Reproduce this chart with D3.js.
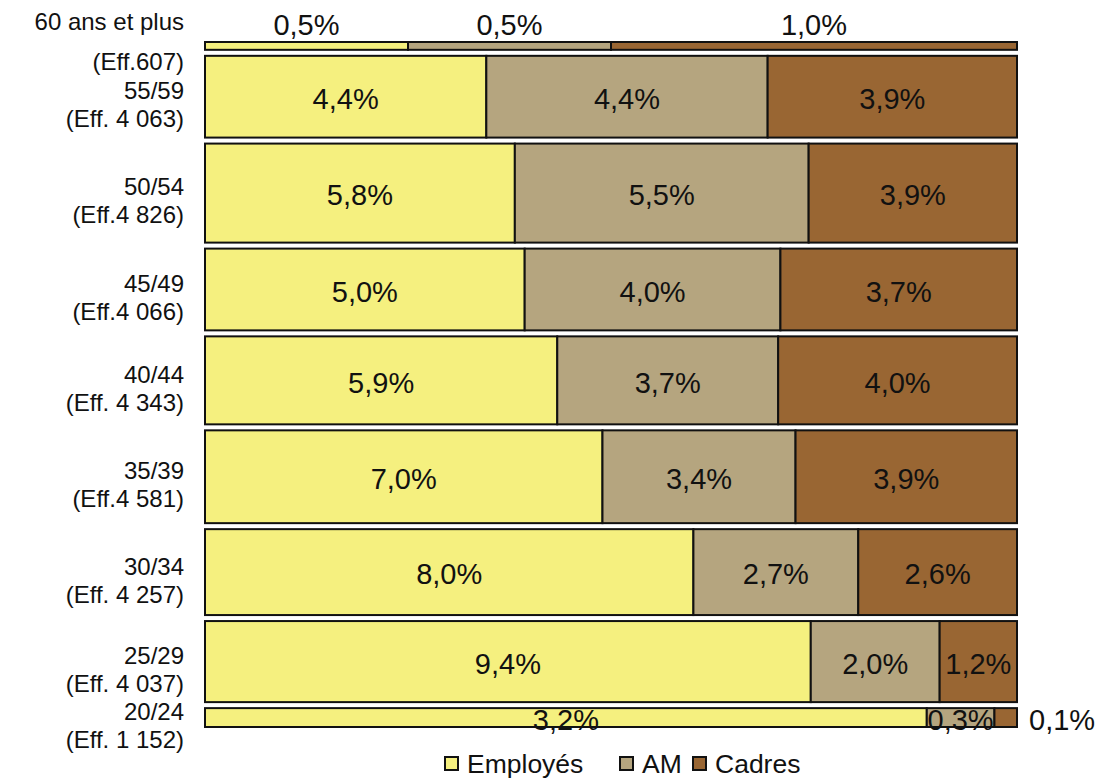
<!DOCTYPE html>
<html>
<head>
<meta charset="utf-8">
<script src="https://cdn.jsdelivr.net/npm/d3@7/dist/d3.min.js"></script>
<style>
  body { margin: 0; background: #fff; }
  svg { font-family: "Liberation Sans", Arial, sans-serif; }
</style>
</head>
<body>
<svg id="chart"></svg>
<script>
// tranches d'âge (de haut en bas)
const ages = ['60 ans et plus', '55/59', '50/54', '45/49', '40/44', '35/39', '30/34', '25/29', '20/24'];
const effectifs = ['(Eff.607)', '(Eff. 4 063)', '(Eff.4 826)', '(Eff.4 066)', '(Eff. 4 343)', '(Eff.4 581)', '(Eff. 4 257)', '(Eff. 4 037)', '(Eff. 1 152)'];
const categories = ['Employés', 'AM', 'Cadres'];
const employes = [0.5, 4.4, 5.8, 5.0, 5.9, 7.0, 8.0, 9.4, 3.2];
const am       = [0.5, 4.4, 5.5, 4.0, 3.7, 3.4, 2.7, 2.0, 0.3];
const cadres   = [1.0, 3.9, 3.9, 3.7, 4.0, 3.9, 2.6, 1.2, 0.1];
const colors = ['#F5F07F', '#B5A57F', '#996633'];

const width = 1097, height = 780;
const svg = d3.select('#chart').attr('width', width).attr('height', height);

// une ligne par tranche, hauteur proportionnelle au total de la tranche
const rows = ages.map((a, i) => {
    const vals = [employes[i], am[i], cadres[i]];
    return {age: a, eff: effectifs[i], vals: vals, total: d3.sum(vals)};
});
let acc = 0;
rows.forEach(r => { r.y0 = acc; acc += r.total; r.y1 = acc; });

const yScale = d3.scaleLinear().domain([0, acc]).range([39, 730]);
const xScale = d3.scaleLinear().domain([0, 1]).range([205, 1017]);
const gap = 6;
const fmt = v => d3.format('.1f')(v).replace('.', ',') + '%';

const rowG = svg.selectAll('g.row')
    .data(rows)
    .enter()
    .append('g')
    .attr('class', 'row');

rowG.each(function(r, i){
    const g = d3.select(this);
    const top = yScale(r.y0) + gap/2;
    const h = yScale(r.y1) - yScale(r.y0) - gap;
    let cum = 0;
    const segs = r.vals.map((v, k) => {
        const s = {v: v, k: k, x0: cum / r.total, x1: (cum + v) / r.total};
        cum += v;
        return s;
    });
    g.selectAll('rect')
        .data(segs)
        .enter()
        .append('rect')
        .attr('x', d => xScale(d.x0))
        .attr('y', top)
        .attr('width', d => xScale(d.x1) - xScale(d.x0))
        .attr('height', h)
        .attr('fill', d => colors[d.k])
        .attr('stroke', '#111')
        .attr('stroke-width', 2);

    //étiquettes de valeurs
    g.selectAll('text.val')
        .data(segs)
        .enter()
        .append('text')
        .attr('class', 'val')
        .attr('font-size', 29)
        .attr('fill', '#111')
        .attr('text-anchor', d => (i > 0 && xScale(d.x1) - xScale(d.x0) < 30) ? 'start' : 'middle')
        .attr('x', d => {
            const w = xScale(d.x1) - xScale(d.x0);
            if (i > 0 && w < 30) return xScale(1) + 12;
            return (xScale(d.x0) + xScale(d.x1)) / 2;
        })
        .attr('y', i === 0 ? 25 : top + h/2 + 2)
        .attr('dy', '0.35em')
        .text(d => fmt(d.v));

    //libellés des tranches
    const cy = top + h/2 + 8;
    g.append('text')
        .attr('x', 184).attr('text-anchor', 'end')
        .attr('font-size', 24).attr('fill', '#111')
        .attr('y', i === 0 ? 22 : cy - 14).attr('dy', '0.35em')
        .text(r.age);
    g.append('text')
        .attr('x', 184).attr('text-anchor', 'end')
        .attr('font-size', 24).attr('fill', '#111')
        .attr('y', i === 0 ? 62 : cy + 14).attr('dy', '0.35em')
        .text(r.eff);
});

// légende
const legend = svg.append('g').attr('transform', 'translate(445, 763)');
const legendX = [0, 175, 248];
categories.forEach((c, k) => {
    legend.append('rect')
        .attr('x', legendX[k]).attr('y', -6)
        .attr('width', 13).attr('height', 13)
        .attr('fill', colors[k])
        .attr('stroke', '#111').attr('stroke-width', 2);
    legend.append('text')
        .attr('x', legendX[k] + 22).attr('y', 1)
        .attr('dy', '0.35em')
        .attr('font-size', 26.5).attr('fill', '#111')
        .text(c);
});
</script>
</body>
</html>
